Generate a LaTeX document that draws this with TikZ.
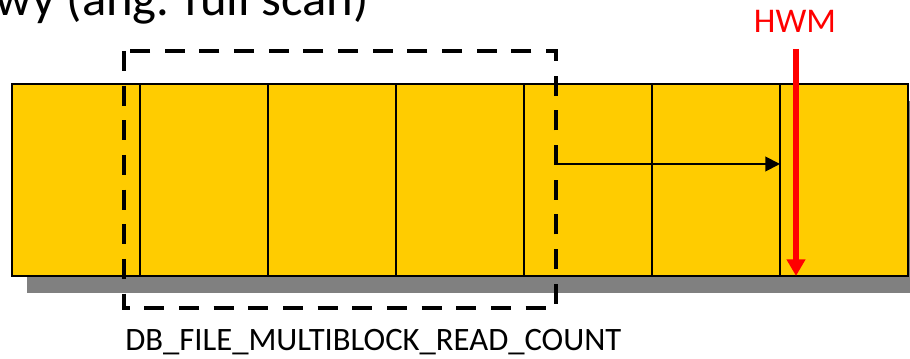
\documentclass[tikz,border=0pt]{standalone}
\usepackage{fontspec}
\setmainfont{Carlito}
\usetikzlibrary{arrows.meta}

\definecolor{blockyellow}{RGB}{255,204,0}
\definecolor{shadowgray}{RGB}{128,128,128}
\definecolor{hwmred}{RGB}{255,0,0}

\begin{document}
\begin{tikzpicture}[x=0.75pt, y=-0.75pt,
        blockline/.style={black, line width=1.4pt},
        readwindow/.style={black, line width=3.5pt, dash pattern=on 15pt off 11pt},
        scanarrow/.style={black, line width=1.4pt, -{Triangle[length=11pt, width=11pt]}},
        hwmarrow/.style={hwmred, line width=4pt, -{Triangle[length=12.5pt, width=13.5pt]}}]
        % Page frame
        \useasboundingbox (0,0) rectangle (910,359);

        % Heading text (only its tail is on the page)
        \node[anchor=base east, inner sep=0pt, font=\fontsize{38}{44}\selectfont] (heading) at (369,16) {wy (ang. full scan)};

        % Shadow of the segment
        \fill[shadowgray] (27,101) rectangle (923,293);

        % Segment of seven blocks
        \fill[blockyellow] (12,84) rectangle (908,276);
        \draw[blockline] (12,84) rectangle (908,276);
        \draw[blockline] (140,84) -- (140,276)
                         (268,84) -- (268,276)
                         (396,84) -- (396,276)
                         (524,84) -- (524,276)
                         (652,84) -- (652,276)
                         (780,84) -- (780,276);

        % Blocks read in one go
        \draw[readwindow] (124,51) rectangle (556,308);
        \node[anchor=base west, inner sep=0pt, font=\fontsize{24.5}{29}\selectfont] (mbrc) at (125,351) {DB\_FILE\_MULTIBLOCK\_READ\_COUNT};

        % Next read moves on to the following blocks
        \coordinate (scanstart) at (556,164);
        \coordinate (scanend) at (780,164);
        \draw[scanarrow] (scanstart) -- (scanend);

        % High water mark
        \node[anchor=base, inner sep=0pt, text=hwmred, font=\fontsize{26}{30}\selectfont] (hwm) at (795,33) {HWM};
        \coordinate (hwmtop) at (796,49);
        \coordinate (hwmbot) at (796,276);
        \draw[hwmarrow] (hwmtop) -- (hwmbot);
\end{tikzpicture}
\end{document}
